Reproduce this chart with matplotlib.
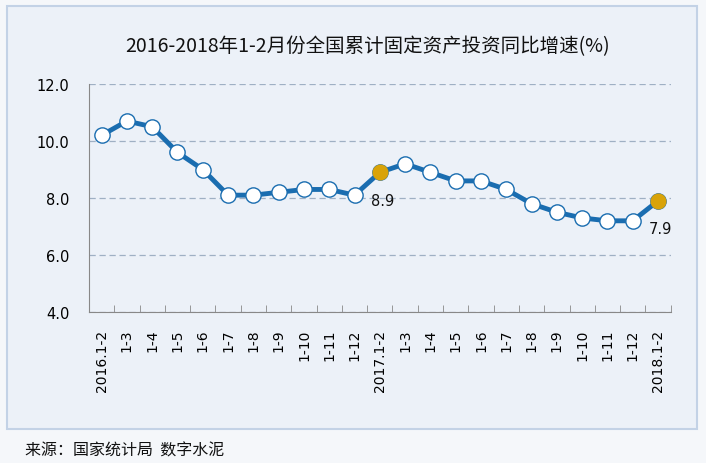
"""2016-2018 fixed asset investment growth (Jan-Feb cumulative)."""

import matplotlib
matplotlib.use("Agg")
import matplotlib.pyplot as plt
from matplotlib.patches import Rectangle

plt.rcParams["font.family"] = ["Noto Sans CJK SC", "DejaVu Sans"]

CATEGORIES = [
    "2016.1-2", "1-3", "1-4", "1-5", "1-6", "1-7", "1-8", "1-9", "1-10", "1-11", "1-12",
    "2017.1-2", "1-3", "1-4", "1-5", "1-6", "1-7", "1-8", "1-9", "1-10", "1-11", "1-12",
    "2018.1-2",
]
GROWTH = [
    10.2, 10.7, 10.5, 9.6, 9.0, 8.1, 8.1, 8.2, 8.3, 8.3, 8.1,
    8.9, 9.2, 8.9, 8.6, 8.6, 8.3, 7.8, 7.5, 7.3, 7.2, 7.2,
    7.9,
]
HIGHLIGHT = [11, 22]
Y_TICKS = [4.0, 6.0, 8.0, 10.0, 12.0]

TITLE = "2016-2018年1-2月份全国累计固定资产投资同比增速(%)"
SOURCE = "来源：国家统计局  数字水泥"

LINE_BLUE = "#1a6db0"
GOLD = "#d9a308"
LATIN = ["DejaVu Sans"]

fig = plt.figure(figsize=(7.06, 4.64), dpi=100)
fig.patch.set_facecolor("#f5f7fa")
panel = Rectangle((0.0099, 0.0733), 0.977, 0.9116, transform=fig.transFigure,
                  facecolor="#ecf1f8", edgecolor="#c3d2e6", linewidth=1.5, zorder=-10)
fig.add_artist(panel)

ax = fig.add_axes([0.126, 0.3254, 0.824, 0.4914])
ax.set_facecolor("none")
x = list(range(len(GROWTH)))
ax.plot(x, GROWTH, color=LINE_BLUE, linewidth=3.5, marker="o", markersize=11,
        markerfacecolor="white", markeredgecolor=LINE_BLUE, markeredgewidth=1, zorder=3)
ax.plot([x[i] for i in HIGHLIGHT], [GROWTH[i] for i in HIGHLIGHT], linestyle="none",
        marker="o", markersize=10.5, markerfacecolor=GOLD, markeredgecolor=GOLD, zorder=4)
for i in HIGHLIGHT:
    ax.annotate(f"{GROWTH[i]:.1f}", (x[i], GROWTH[i]), xytext=(2, -20), textcoords="offset points",
                ha="center", va="center", fontsize=10.5, family=LATIN, color="#111111")

ax.set_xlim(-0.5, len(GROWTH) - 0.5)
ax.set_ylim(4.0, 12.0)
ax.set_yticks(Y_TICKS)
ax.set_yticklabels([f"{v:.1f}" for v in Y_TICKS], fontsize=10.5, family=LATIN)
ax.yaxis.grid(True, linestyle=(0, (5, 3)), color="#9fb0c4", linewidth=0.9)
ax.set_axisbelow(True)
ax.tick_params(axis="y", length=0, pad=14)

ax.set_xticks(x)
ax.set_xticklabels(CATEGORIES, rotation=90, fontsize=10, family=LATIN)
ax.tick_params(axis="x", length=0, pad=12)
ax.set_xticks([i - 0.5 for i in range(len(GROWTH) + 1)], minor=True)
ax.tick_params(axis="x", which="minor", direction="in", length=5, color="#888888")

for side in ("top", "right"):
    ax.spines[side].set_visible(False)
for side in ("left", "bottom"):
    ax.spines[side].set_color("#888888")

fig.text(0.521, 0.900, TITLE, ha="center", va="center", fontsize=14,
         fontweight="medium", color="#111111")
fig.text(0.035, 0.028, SOURCE, ha="left", va="center", fontsize=11.5, color="#111111")

fig.savefig("out.png", dpi=100, facecolor=fig.get_facecolor())
